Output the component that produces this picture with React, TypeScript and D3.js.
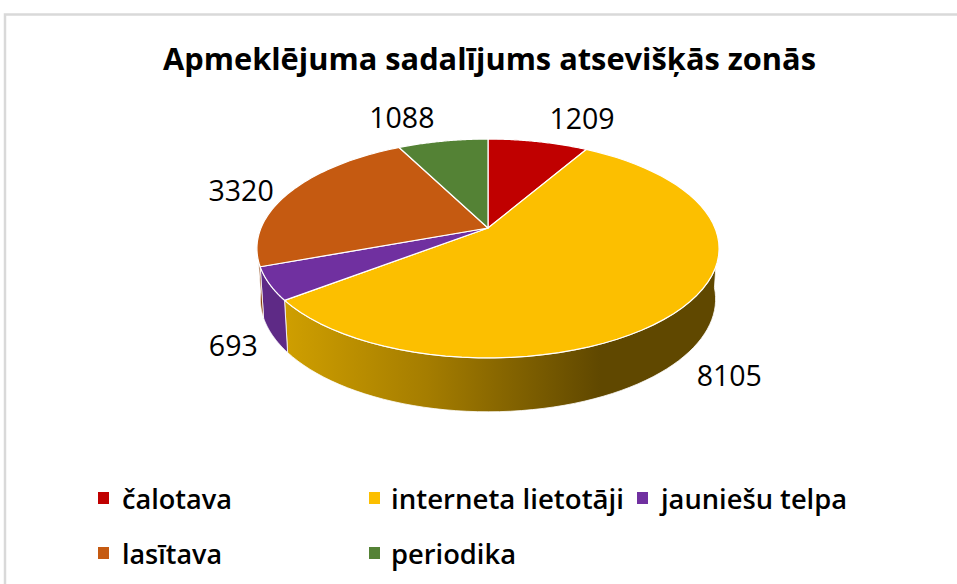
import React from "react";
import * as d3 from "d3";

const categories = ["čalotava", "interneta lietotāji", "jauniešu telpa", "lasītava", "periodika"];
const values = [1209, 8105, 693, 3320, 1088];
const colors = ["#c00000", "#fcbf00", "#7030a0", "#c55a11", "#548235"];
const sideColors = ["#800000", "url(#wallGold)", "#5e2a86", "#8a3f0c", "#3a5a25"];
const labelOffsets = [[44, -24], [47, 67], [-36, 61], [-49, -2], [-41, -25]];
const legendSpots = [[98, 498], [369, 498], [637, 498], [98, 553], [369, 553]];
const legendGaps = [24, 22, 24, 24, 22];
const legendWidths = [110, 233, 186, 100, 125];

const W = 957, H = 584;
const cx = 488, cy = 228, A = 227, B = 105.6, K = 0.187;
const depth = 50, shrinkX = 0.985, growY = 1.03;

const project = (t: number, sx = 1, sy = 1, dy = 0): [number, number] => {
  const u = Math.sin(t), v = -Math.cos(t);
  const den = 1 - K * v;
  return [cx + (sx * A * u) / den, cy + dy + (sy * B * v) / den];
};
const line = d3.line();
const sample = (a: number, b: number, sx = 1, sy = 1, dy = 0) =>
  d3.range(0, 61).map((i) => project(a + ((b - a) * i) / 60, sx, sy, dy));

const arcs = d3.pie<number>().sort(null).value((d) => d)(values);
const FONT = "'Open Sans', sans-serif";

export default function App() {
  const visibleStart = (95 * Math.PI) / 180;
  const visibleEnd = (262 * Math.PI) / 180;
  return (
    <svg width={W} height={H} style={{ position: "absolute", left: 0, top: 0, background: "#fff" }}>
      <defs>
        <linearGradient id="wallGold" gradientUnits="userSpaceOnUse" x1="285" x2="600" y1="0" y2="0">
          <stop offset="0" stopColor="#cf9f00" />
          <stop offset="0.45" stopColor="#a57d00" />
          <stop offset="1" stopColor="#604800" />
        </linearGradient>
      </defs>
      <path d="M5 584V14.5H957" fill="none" stroke="#d9d9d9" strokeWidth={2.5} />
      <text x={489.5} y={70} textAnchor="middle" fontFamily={FONT} fontWeight={700} fontSize={31}
        textLength={653} lengthAdjust="spacingAndGlyphs" fill="#000">
        Apmeklējuma sadalījums atsevišķās zonās
      </text>
      {arcs.map((d, i) => {
        const a = Math.max(d.startAngle, visibleStart);
        const b = Math.min(d.endAngle, visibleEnd);
        if (a >= b) return null;
        const pts = [...sample(a, b), ...sample(a, b, shrinkX, growY, depth).reverse()];
        return <path key={"w" + i} d={line(pts) + "Z"} fill={sideColors[i]} stroke="#fff" strokeWidth={0.8} strokeLinejoin="round" />;
      })}
      {arcs.map((d, i) => {
        const pts = [[cx, cy] as [number, number], ...sample(d.startAngle, d.endAngle)];
        return <path key={"t" + i} d={line(pts) + "Z"} fill={colors[i]} stroke="#fff" strokeWidth={1.2} strokeLinejoin="round" />;
      })}
      {arcs.map((d, i) => {
        const [x, y] = project((d.startAngle + d.endAngle) / 2);
        return (
          <text key={"l" + i} x={x + labelOffsets[i][0]} y={y + labelOffsets[i][1]} textAnchor="middle" dominantBaseline="central"
            fontFamily={FONT} fontSize={29} textLength={String(values[i]).length * 16.3} lengthAdjust="spacingAndGlyphs" fill="#000">
            {values[i]}
          </text>
        );
      })}
      {categories.map((c, i) => (
        <g key={c} transform={`translate(${legendSpots[i][0]},${legendSpots[i][1]})`}>
          <rect x={0} y={-6} width={11} height={12} fill={colors[i]} />
          <text x={legendGaps[i]} y={0} dominantBaseline="central" fontFamily={FONT} fontWeight={600} fontSize={27}
            textLength={legendWidths[i]} lengthAdjust="spacingAndGlyphs" fill="#000">
            {c}
          </text>
        </g>
      ))}
    </svg>
  );
}
